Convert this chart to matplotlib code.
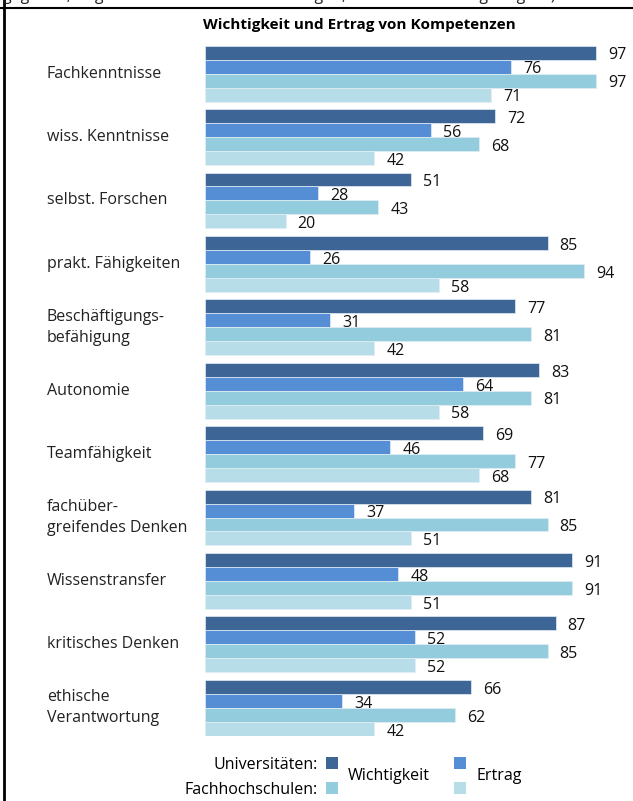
import numpy as np
import matplotlib
matplotlib.use('Agg')
import matplotlib.pyplot as plt
from matplotlib.patches import Rectangle
from matplotlib.lines import Line2D

plt.rcParams['font.family'] = ['Open Sans', 'DejaVu Sans']

# data
categories = ['Fachkenntnisse', 'wiss. Kenntnisse', 'selbst. Forschen',
              'prakt. Fähigkeiten', 'Beschäftigungs-\nbefähigung', 'Autonomie',
              'Teamfähigkeit', 'fachüber-\ngreifendes Denken', 'Wissenstransfer',
              'kritisches Denken', 'ethische\nVerantwortung']
uni_wichtig = [97, 72, 51, 85, 77, 83, 69, 81, 91, 87, 66]
uni_ertrag = [76, 56, 28, 26, 31, 64, 46, 37, 48, 52, 34]
fh_wichtig = [97, 68, 43, 94, 81, 81, 77, 85, 91, 85, 62]
fh_ertrag = [71, 42, 20, 58, 42, 58, 68, 51, 51, 52, 42]

series = [uni_wichtig, uni_ertrag, fh_wichtig, fh_ertrag]
colors = ['#3D6697', '#558ED5', '#93CDDD', '#B7DEE8']

W, H = 633, 801
fig = plt.figure(figsize=(W / 100, H / 100), dpi=100)

G = 4.53  # group spacing in bar units
n = len(categories)
ymax = (n - 1) * G + 4

left, right = 205, 608
top, bottom = 45.7, 735.7
ax = fig.add_axes([left / W, (H - bottom) / H, (right - left) / W, (bottom - top) / H])

for k, (vals, c) in enumerate(zip(series, colors)):
    ys = np.arange(n) * G + k + 0.5
    ax.barh(ys, vals, height=1.0, color=c, edgecolor='#e4edf4', linewidth=0.5)
    for y, v in zip(ys, vals):
        ax.text(v + 3, y + 0.2, str(v), va='center', ha='left', fontsize=11.5,
                color='#111111')

ax.set_xlim(0, 100)
ax.set_ylim(ymax, 0)
ax.axis('off')

# category labels
for i, cat in enumerate(categories):
    yc = i * G + 2
    ax.text(-158 / 4.03, yc, cat, va='center', ha='left', fontsize=11.5,
            color='#222222', linespacing=1.45, clip_on=False)

# title
fig.text(359 / W, 1 - 25 / H, 'Wichtigkeit und Ertrag von Kompetenzen',
         ha='center', va='center', fontsize=11, fontweight='bold')

# cut off caption line at top (only the lower part is visible)
fig.text(3 / W, 1 + 4 / H, 'gegeben, Angaben in Prozent der Nennungen, Mehrfachnennung möglich)',
         ha='left', va='center', fontsize=11.5, color='#222222')

# frame
fig.add_artist(Line2D([0, 632 / W], [1 - 8 / H, 1 - 8 / H], color='black', lw=1.5))
fig.add_artist(Line2D([3.5 / W, 3.5 / W], [0, 1], color='black', lw=2))

# legend
fig.text(318 / W, 1 - 765 / H, 'Universitäten:', ha='right', va='center', fontsize=11.5)
fig.text(318 / W, 1 - 790 / H, 'Fachhochschulen:', ha='right', va='center', fontsize=11.5)
fig.text(348 / W, 1 - 776 / H, 'Wichtigkeit', ha='left', va='center', fontsize=11.5)
fig.text(476 / W, 1 - 776 / H, 'Ertrag', ha='left', va='center', fontsize=11.5)
for (x, y), c in zip([(326, 757), (454, 757), (326, 782), (454, 782)], colors):
    fig.add_artist(Rectangle((x / W, 1 - (y + 12) / H), 12 / W, 12 / H,
                             facecolor=c, edgecolor='none', transform=fig.transFigure))

fig.savefig('out.png', dpi=100)
